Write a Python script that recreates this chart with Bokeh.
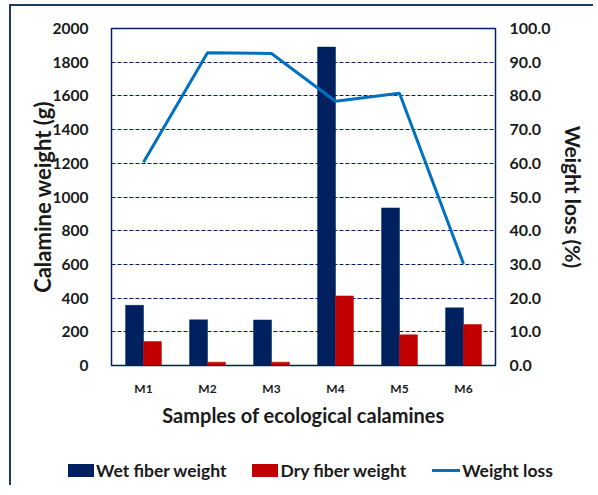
from bokeh.plotting import figure
from bokeh.layouts import column
from bokeh.models import (ColumnDataSource, Range1d, LinearAxis, FactorRange, Div,
                          SingleIntervalTicker, NumeralTickFormatter)
from bokeh.transform import dodge
from bokeh.embed import file_html
from bokeh.resources import INLINE

samples = ["M1", "M2", "M3", "M4", "M5", "M6"]
wet_weight = [357, 271, 270, 1890, 935, 342]
dry_weight = [142, 20, 20, 413, 182, 243]
weight_loss = [60.3, 92.8, 92.6, 78.4, 80.8, 30.2]
series_names = ["Wet fiber weight", "Dry fiber weight", "Weight loss"]

NAVY = "#002060"
RED = "#C00000"
BLUE = "#0070C0"
FONT = "Lato"
TXT = "#1a1a1a"
FRAME = "2px solid #1F3864"

src = ColumnDataSource(dict(s=samples, wet=wet_weight, dry=dry_weight, loss=weight_loss))

p = figure(width=584, height=437, x_range=FactorRange(*samples, range_padding=0),
           y_range=Range1d(0, 2000), output_backend="svg", toolbar_location=None,
           min_border_left=100, min_border_right=100, min_border_top=22, min_border_bottom=78)
p.margin = (4, 0, 0, 9)
p.styles = {"border-top": FRAME, "border-left": FRAME}
p.extra_y_ranges = {"loss": Range1d(0, 100)}

p.vbar(x=dodge("s", -0.14, range=p.x_range), top="wet", width=0.28, source=src,
       fill_color=NAVY, line_color=NAVY, line_width=0.5)
p.vbar(x=dodge("s", 0.14, range=p.x_range), top="dry", width=0.28, source=src,
       fill_color=RED, line_color=RED, line_width=0.5)
p.line(x="s", y="loss", source=src, y_range_name="loss", line_color=BLUE, line_width=3)

p.outline_line_color = NAVY
p.outline_line_width = 1.5
p.xgrid.grid_line_color = None
p.ygrid.grid_line_color = NAVY
p.ygrid.grid_line_dash = "4 2"
p.ygrid.grid_line_width = 1

p.yaxis.ticker = SingleIntervalTicker(interval=200)
for ax in [p.yaxis[0], p.xaxis[0]]:
    ax.axis_line_color = None
    ax.major_tick_line_color = None
    ax.minor_tick_line_color = None
    ax.major_label_text_font = FONT
    ax.major_label_text_font_style = "bold"
    ax.major_label_text_color = TXT
    ax.axis_label_text_font = FONT
    ax.axis_label_text_font_style = "bold"
    ax.axis_label_text_color = TXT

p.yaxis.axis_label = "Calamine weight (g)"
p.yaxis.major_label_text_font_size = "15.5px"
p.yaxis.axis_label_text_font_size = "22px"
p.yaxis.major_label_standoff = 17
p.yaxis.axis_label_standoff = -6

p.xaxis.axis_label = "Samples of ecological calamines"
p.xaxis.major_label_text_font_size = "12px"
p.xaxis.axis_label_text_font_size = "20px"
p.xaxis.major_label_standoff = 9
p.xaxis.axis_label_standoff = 4

ry = LinearAxis(y_range_name="loss", axis_label="Weight loss (%)",
                ticker=SingleIntervalTicker(interval=10),
                formatter=NumeralTickFormatter(format="0.0"))
ry.axis_line_color = None
ry.major_tick_line_color = None
ry.minor_tick_line_color = None
ry.major_label_text_font = FONT
ry.major_label_text_font_style = "bold"
ry.major_label_text_font_size = "16px"
ry.major_label_text_color = TXT
ry.major_label_standoff = 8
ry.axis_label_text_font = FONT
ry.axis_label_text_font_style = "bold"
ry.axis_label_text_font_size = "21px"
ry.axis_label_text_color = TXT
ry.axis_label_standoff = 8
p.add_layout(ry, "right")

# legend strip (HTML)
swatches = [
    f'<span style="display:inline-block;width:26px;height:13px;background:{NAVY};margin-right:2px"></span>',
    f'<span style="display:inline-block;width:26px;height:13px;background:{RED};margin-right:2px"></span>',
    f'<span style="display:inline-block;width:28px;height:3px;background:{BLUE};margin-right:2px"></span>',
]
items = "".join(
    f'<span style="display:inline-flex;align-items:center">{sw}<span>{name}</span></span>'
    for sw, name in zip(swatches, series_names))
html = (f'<div style="display:flex;justify-content:center;align-items:center;gap:26px;'
        f'font-family:{FONT};font-weight:bold;font-size:17.5px;line-height:21px;color:{TXT};'
        f'padding-top:19px;padding-left:15px;box-sizing:border-box;width:584px;">{items}</div>')
leg = Div(text=html, width=584, height=44, margin=(0, 0, 0, 9), styles={"border-left": FRAME})

layout = column(p, leg, spacing=0)
open("out.html", "w").write(file_html(layout, INLINE))
